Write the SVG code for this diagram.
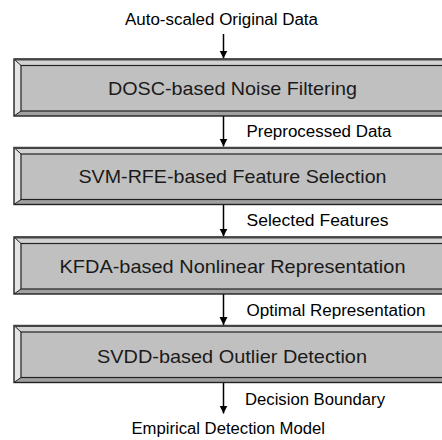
<svg xmlns="http://www.w3.org/2000/svg" width="442" height="440" viewBox="0 0 442 440">
  <style>
    .label { font-family: "Liberation Sans", Arial, sans-serif; font-size: 16px; fill: #000; }
    .title { font-family: "Liberation Sans", Arial, sans-serif; font-size: 19px; fill: #1a1a1a; text-anchor: middle; }
    .face { fill: #c0c0c0; stroke: #222; stroke-width: 1.2; }
    .outer { fill: none; stroke: #222; stroke-width: 1.4; }
    .bev-top { fill: #d2d2d2; }
    .bev-left { fill: #e4e4e4; }
    .bev-bottom { fill: #a0a0a0; }
    .bev-right { fill: #8c8c8c; }
    .edge { stroke: #222; stroke-width: 1; }
    .wire { stroke: #000; stroke-width: 1.5; fill: none; }
  </style>
  <defs>
    <marker id="head" markerUnits="userSpaceOnUse" markerWidth="10" markerHeight="10" viewBox="0 0 10 10" refX="8" refY="5" orient="auto">
      <path d="M0,1 L8,5 L0,9 Z" fill="#000"/>
    </marker>
    <!-- bevelled block, origin at outer top-left, 437 x 57 -->
    <g id="block">
      <polygon class="bev-top" points="0,0 437,0 430,6.5 7,6.5"/>
      <polygon class="bev-left" points="0,0 7,6.5 7,52 0,57"/>
      <polygon class="bev-bottom" points="0,57 7,52 430,52 437,57"/>
      <polygon class="bev-right" points="437,0 430,6.5 430,52 437,57"/>
      <rect class="face" x="7" y="6.5" width="423" height="45.5"/>
      <line class="edge" x1="0" y1="0" x2="7" y2="6.5"/>
      <line class="edge" x1="0" y1="57" x2="7" y2="52"/>
      <rect class="outer" x="0" y="0" width="437" height="57"/>
      <line x1="0" y1="0.5" x2="437" y2="0.5" stroke="#444" stroke-width="2"/>
    </g>
  </defs>

  <g id="connectors">
    <line class="wire" x1="223.5" y1="34" x2="223.5" y2="58.5" marker-end="url(#head)"/>
    <line class="wire" x1="223.5" y1="116" x2="223.5" y2="146.5" marker-end="url(#head)"/>
    <line class="wire" x1="223.5" y1="204" x2="223.5" y2="236.5" marker-end="url(#head)"/>
    <line class="wire" x1="223.5" y1="294" x2="223.5" y2="325" marker-end="url(#head)"/>
    <line class="wire" x1="223.5" y1="382.5" x2="223.5" y2="413.5" marker-end="url(#head)"/>
    <text class="label" x="125" y="25" textLength="193" lengthAdjust="spacingAndGlyphs">Auto-scaled Original Data</text>
    <text class="label" x="246.5" y="136.5" textLength="145" lengthAdjust="spacingAndGlyphs">Preprocessed Data</text>
    <text class="label" x="246.5" y="226" textLength="142" lengthAdjust="spacingAndGlyphs">Selected Features</text>
    <text class="label" x="246.5" y="316" textLength="179" lengthAdjust="spacingAndGlyphs">Optimal Representation</text>
    <text class="label" x="245" y="405" textLength="140" lengthAdjust="spacingAndGlyphs">Decision Boundary</text>
    <text class="label" x="131.5" y="434" textLength="193.5" lengthAdjust="spacingAndGlyphs">Empirical Detection Model</text>
  </g>

  <g id="node-dosc">
    <use href="#block" x="14" y="59"/>
    <text class="title" x="232.5" y="94.5" textLength="249" lengthAdjust="spacingAndGlyphs">DOSC-based Noise Filtering</text>
  </g>
  <g id="node-svmrfe">
    <use href="#block" x="14" y="147.5"/>
    <text class="title" x="232.5" y="183" textLength="308" lengthAdjust="spacingAndGlyphs">SVM-RFE-based Feature Selection</text>
  </g>
  <g id="node-kfda">
    <use href="#block" x="14" y="237"/>
    <text class="title" x="232.5" y="272.5" textLength="346" lengthAdjust="spacingAndGlyphs">KFDA-based Nonlinear Representation</text>
  </g>
  <g id="node-svdd">
    <use href="#block" x="14" y="325.5"/>
    <text class="title" x="232" y="363" textLength="270" lengthAdjust="spacingAndGlyphs">SVDD-based Outlier Detection</text>
  </g>
</svg>
